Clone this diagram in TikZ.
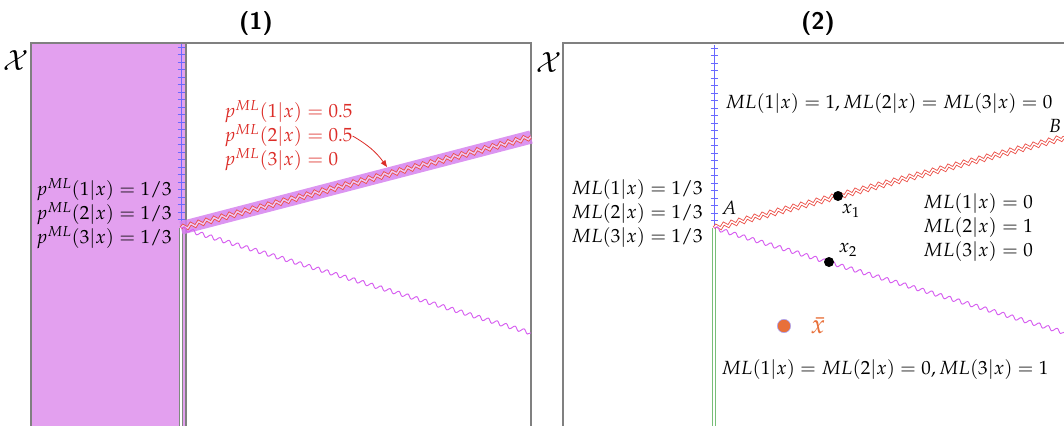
\documentclass[tikz,border=0pt]{standalone}
\usepackage{mathpazo}
\usetikzlibrary{decorations.pathmorphing,arrows.meta}
\definecolor{framegray}{RGB}{128,128,128}
\definecolor{regionpurple}{RGB}{227,160,239}
\definecolor{bandpurple}{RGB}{214,130,238}
\definecolor{edgered}{RGB}{236,80,72}
\definecolor{textred}{RGB}{220,45,40}
\definecolor{wavemagenta}{RGB}{214,94,240}
\definecolor{axisblue}{RGB}{105,105,255}
\definecolor{axisgreen}{RGB}{120,190,120}
\definecolor{dotorange}{RGB}{232,112,58}
\tikzset{
  panelframe/.style={draw=framegray, line width=1.2pt},
  headlbl/.style={font=\sffamily\bfseries\fontsize{18}{20}\selectfont},
  setlbl/.style={font=\fontsize{21}{23}\selectfont},
  mllbl/.style={font=\fontsize{14.3}{18}\selectfont, inner sep=0pt},
  redwave/.style={draw=edgered, double=white, double distance=1.1pt, line width=0.65pt,
    decorate, decoration={snake, amplitude=1.4pt, segment length=6pt}},
  pinkwave/.style={draw=wavemagenta, line width=0.7pt,
    decorate, decoration={snake, amplitude=1.5pt, segment length=7pt}},
  greenaxis/.style={draw=axisgreen, double=white, double distance=1.5pt, line width=0.9pt},
  blueaxis/.style={draw=axisblue, line width=0.7pt},
  blacktick/.style={draw=axisblue, line width=0.5pt},
  pointdot/.style={circle, fill=black, inner sep=0pt, minimum size=7.5pt}
}
\begin{document}
\begin{tikzpicture}[x=0.75pt, y=-0.75pt]
\useasboundingbox (0,0) rectangle (1064,425);
% panel (1)
\fill[regionpurple] (31,43) rectangle (186,430);
\draw[panelframe] (31,430) -- (31,43) -- (531,43) -- (531,430);
\draw[framegray, line width=1pt] (186,43) -- (186,430);
\node[headlbl] (t1) at (256,23) {(1)};
\node[setlbl] (X1) at (16,61) {$\mathcal{X}$};
\coordinate (A1) at (181,228);
\coordinate (B1) at (531,137);
\coordinate (C1) at (531,333);
\coordinate (top1) at (181,44);
\coordinate (bot1) at (180,430);
\draw[blueaxis] (top1) -- (A1);
\foreach \y in {47,54.5,...,222} \draw[blacktick] (177.5,\y) -- (184.5,\y);
\draw[greenaxis, draw=framegray!80!axisgreen] (A1 |- 0,228) -- (bot1 -| A1);
\draw[bandpurple, line width=10pt, opacity=0.85] (A1) -- (B1);
\draw[redwave, double=bandpurple!45] (A1) -- (B1);
\draw[pinkwave] (A1) -- (C1);
\node[mllbl, anchor=east, align=right] (p1) at (172,214)
  {$p^{ML}(1|x) = 1/3$\\$p^{ML}(2|x) = 1/3$\\$p^{ML}(3|x) = 1/3$};
\node[mllbl, anchor=west, align=left, text=textred] (q1) at (224,136)
  {$p^{ML}(1|x) = 0.5$\\$p^{ML}(2|x) = 0.5$\\$p^{ML}(3|x) = 0$};
\coordinate (tip1) at (387,167);
\draw[textred, line width=0.6pt, -{Triangle[length=5pt,width=4pt]}] (q1.east) to[bend left=12] (tip1);
% panel (2)
\draw[panelframe] (563,430) -- (563,43) -- (1066,43);
\node[headlbl] (t2) at (818,23) {(2)};
\node[setlbl] (X2) at (549,63) {$\mathcal{X}$};
\coordinate (A2) at (714,228);
\coordinate (B2) at (1066,137);
\coordinate (C2) at (1066,333);
\coordinate (top2) at (714,45);
\coordinate (bot2) at (713,430);
\draw[blueaxis] (top2) -- (A2);
\foreach \y in {48,55.5,...,222} \draw[blacktick] (710.5,\y) -- (717.5,\y);
\draw[greenaxis] (A2) -- (bot2 -| A2);
\draw[redwave] (A2) -- (B2);
\draw[pinkwave] (A2) -- (C2);
\node[mllbl, anchor=east, align=right] (m1) at (703,214)
  {$ML(1|x) = 1/3$\\$ML(2|x) = 1/3$\\$ML(3|x) = 1/3$};
\node[mllbl] (m2) at (889,104) {$ML(1|x) = 1, ML(2|x) = ML(3|x) = 0$};
\node[mllbl, anchor=west, align=left] (m3) at (923,228)
  {$ML(1|x) = 0$\\$ML(2|x) = 1$\\$ML(3|x) = 0$};
\node[mllbl] (m4) at (885,370) {$ML(1|x) = ML(2|x) = 0, ML(3|x) = 1$};
\node[mllbl] (a) at (729,208) {$A$};
\node[mllbl] (b) at (1055,126) {$B$};
\node[pointdot] (x1) at (838,196) {};
\node[mllbl] (x1l) at (851,211) {$x_1$};
\node[pointdot] (x2) at (829,262) {};
\node[mllbl] (x2l) at (848,250) {$x_2$};
\node[circle, fill=dotorange, draw=axisblue!60, line width=0.4pt, inner sep=0pt, minimum size=10pt] (xb) at (784,326) {};
\node[mllbl, font=\fontsize{20}{22}\selectfont, text=dotorange] (xbl) at (818,326) {$\bar{x}$};
\end{tikzpicture}
\end{document}
